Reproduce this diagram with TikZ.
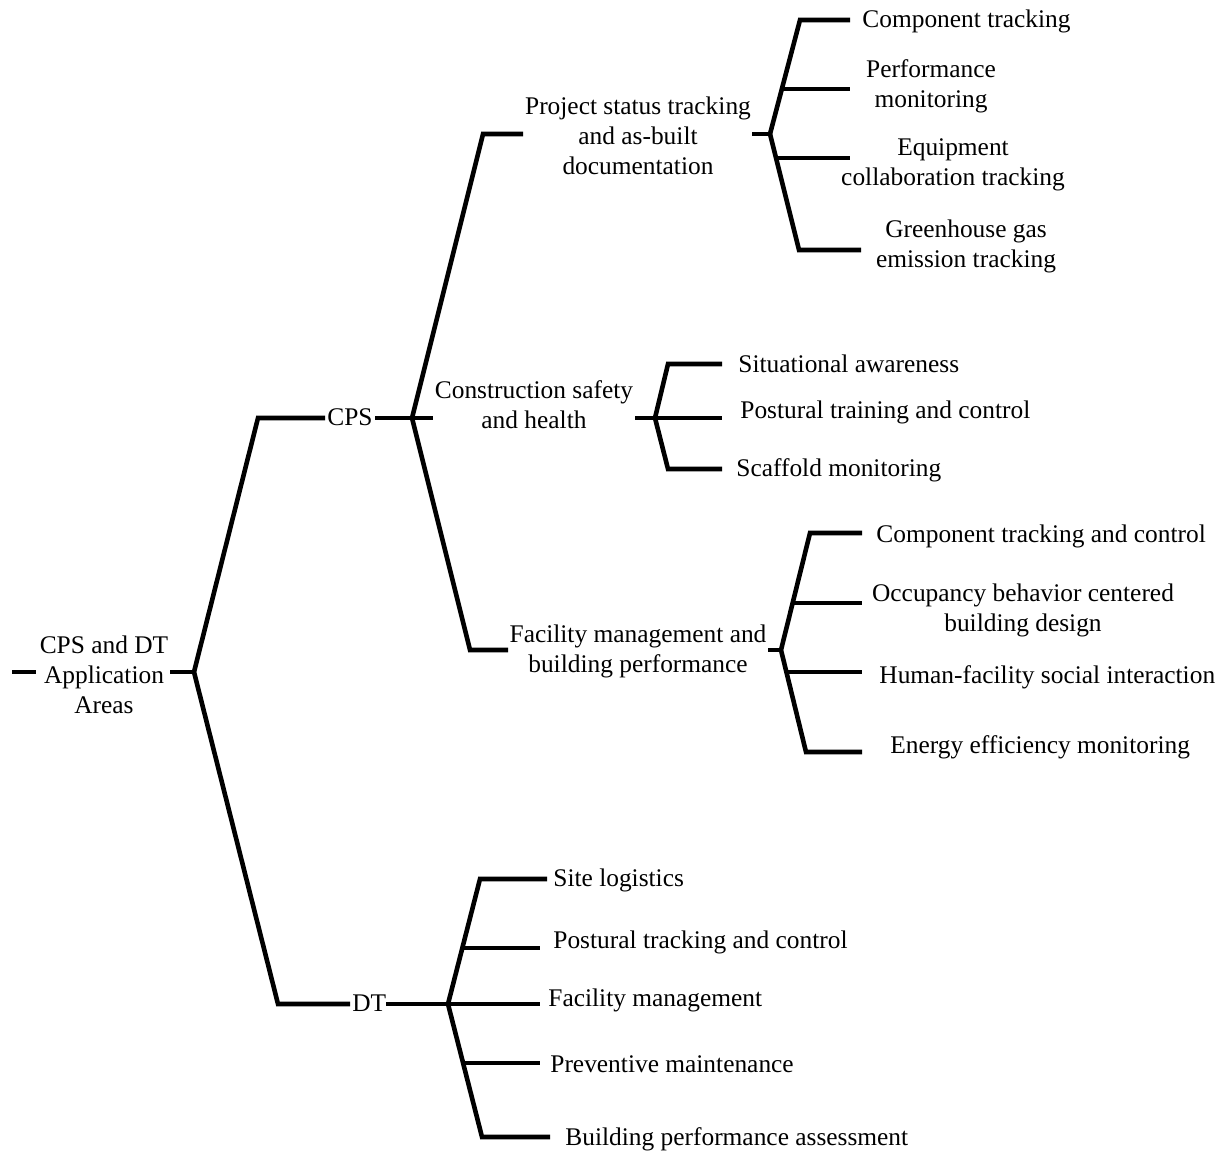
\documentclass[tikz,border=0pt]{standalone}
\usepackage{fontspec}
\setmainfont{Liberation Serif}
\begin{document}
\begin{tikzpicture}[x=0.5pt,y=-0.5pt,
  conn/.style={line width=2.3pt,line join=miter},
  leaf/.style={anchor=west,inner sep=0pt,text height=0.92em,text depth=0.16em},
  multi/.style={align=center,inner sep=0pt,anchor=center},
  every node/.style={font=\fontsize{12.7}{15}\selectfont}]
\useasboundingbox (0,0) rectangle (1225,1151);

% ---------- root ----------
\node[multi] (root) at (104,675) {CPS and DT\\Application\\Areas};
\coordinate (s0a) at (12,672);
\coordinate (s0b) at (36,672);
\coordinate (r1) at (170,672);
\coordinate (F0) at (194,672);
\draw[conn] (s0a) -- (s0b);
\draw[conn] (r1) -- (F0);

% ---------- CPS ----------
\node[leaf] (cps) at (327,418) {CPS};
\coordinate (c1) at (258,418);
\coordinate (c2) at (325,418);
\coordinate (c3) at (375,418);
\coordinate (F1) at (412,418);
\coordinate (c4) at (433,418);
\draw[conn] (F0) -- (c1) -- (c2);
\draw[conn] (c3) -- (F1) -- (c4);

% ---------- DT ----------
\node[leaf] (dt) at (352,1004) {DT};
\coordinate (d1) at (278,1004);
\coordinate (d2) at (350,1004);
\coordinate (d3) at (386,1004);
\coordinate (F2) at (448,1004);
\draw[conn] (F0) -- (d1) -- (d2);
\draw[conn] (d3) -- (F2);

% ---------- Project status ----------
\node[multi] (proj) at (638,136) {Project status tracking\\and as-built\\documentation};
\coordinate (p0) at (483,134);
\coordinate (p1) at (523,134);
\coordinate (p2) at (752,134);
\coordinate (F3) at (770,134);
\draw[conn] (F1) -- (p0) -- (p1);
\draw[conn] (p2) -- (F3);
\coordinate (pa1) at (800,20);   \coordinate (pa2) at (850,20);
\coordinate (pb1) at (782,89);   \coordinate (pb2) at (850,89);
\coordinate (pc1) at (776,158);  \coordinate (pc2) at (850,158);
\coordinate (pd1) at (799,250);  \coordinate (pd2) at (861,250);
\draw[conn] (F3) -- (pa1) -- (pa2);
\draw[conn] (pb1) -- (pb2);
\draw[conn] (F3) -- (pd1) -- (pd2);
\draw[conn] (pc1) -- (pc2);
\node[leaf] (pa) at (862,20) {Component tracking};
\node[multi] (pb) at (931,86) {Performance\\monitoring};
\node[multi] (pc) at (953,165) {Equipment\\collaboration tracking};
\node[multi] (pd) at (966,246) {Greenhouse gas\\emission tracking};

% ---------- Construction safety ----------
\node[multi] (cons) at (534,405) {Construction safety\\and health};
\coordinate (q1) at (635,418);
\coordinate (F4) at (655,418);
\draw[conn] (q1) -- (F4);
\coordinate (qa1) at (668,364);  \coordinate (qa2) at (722,364);
\coordinate (qb2) at (722,418);
\coordinate (qc1) at (668,469);  \coordinate (qc2) at (722,469);
\draw[conn] (qa2) -- (qa1) -- (F4) -- (qc1) -- (qc2);
\draw[conn] (F4) -- (qb2);
\node[leaf] (qa) at (738,365) {Situational awareness};
\node[leaf] (qb) at (740,411) {Postural training and control};
\node[leaf] (qc) at (736,469) {Scaffold monitoring};

% ---------- Facility management ----------
\node[multi] (fac) at (638,651) {Facility management and\\building performance};
\coordinate (m0) at (470,650);
\coordinate (m1) at (508,650);
\coordinate (m2) at (768,650);
\coordinate (F5) at (781,650);
\draw[conn] (F1) -- (m0) -- (m1);
\draw[conn] (m2) -- (F5);
\coordinate (ma1) at (810,533);  \coordinate (ma2) at (862,533);
\coordinate (mb1) at (793,603);  \coordinate (mb2) at (862,603);
\coordinate (mc1) at (786,672);  \coordinate (mc2) at (862,672);
\coordinate (md1) at (806,752);  \coordinate (md2) at (862,752);
\draw[conn] (ma2) -- (ma1) -- (F5) -- (md1) -- (md2);
\draw[conn] (mb1) -- (mb2);
\draw[conn] (mc1) -- (mc2);
\node[leaf] (ma) at (876,535) {Component tracking and control};
\node[multi] (mb) at (1023,610) {Occupancy behavior centered\\building design};
\node[leaf] (mc) at (879,676) {Human-facility social interaction};
\node[leaf] (md) at (890,746) {Energy efficiency monitoring};

% ---------- DT leaves ----------
\coordinate (ta1) at (480,879);  \coordinate (ta2) at (547,879);
\coordinate (tb1) at (462,948);  \coordinate (tb2) at (540,948);
\coordinate (tc2) at (540,1004);
\coordinate (td1) at (463,1063); \coordinate (td2) at (540,1063);
\coordinate (te1) at (482,1137); \coordinate (te2) at (550,1137);
\draw[conn] (ta2) -- (ta1) -- (F2) -- (te1) -- (te2);
\draw[conn] (tb1) -- (tb2);
\draw[conn] (F2) -- (tc2);
\draw[conn] (td1) -- (td2);
\node[leaf] (ta) at (553,879) {Site logistics};
\node[leaf] (tb) at (553,941) {Postural tracking and control};
\node[leaf] (tc) at (548,999) {Facility management};
\node[leaf] (td) at (550,1065) {Preventive maintenance};
\node[leaf] (te) at (565,1138) {Building performance assessment};
\end{tikzpicture}
\end{document}
